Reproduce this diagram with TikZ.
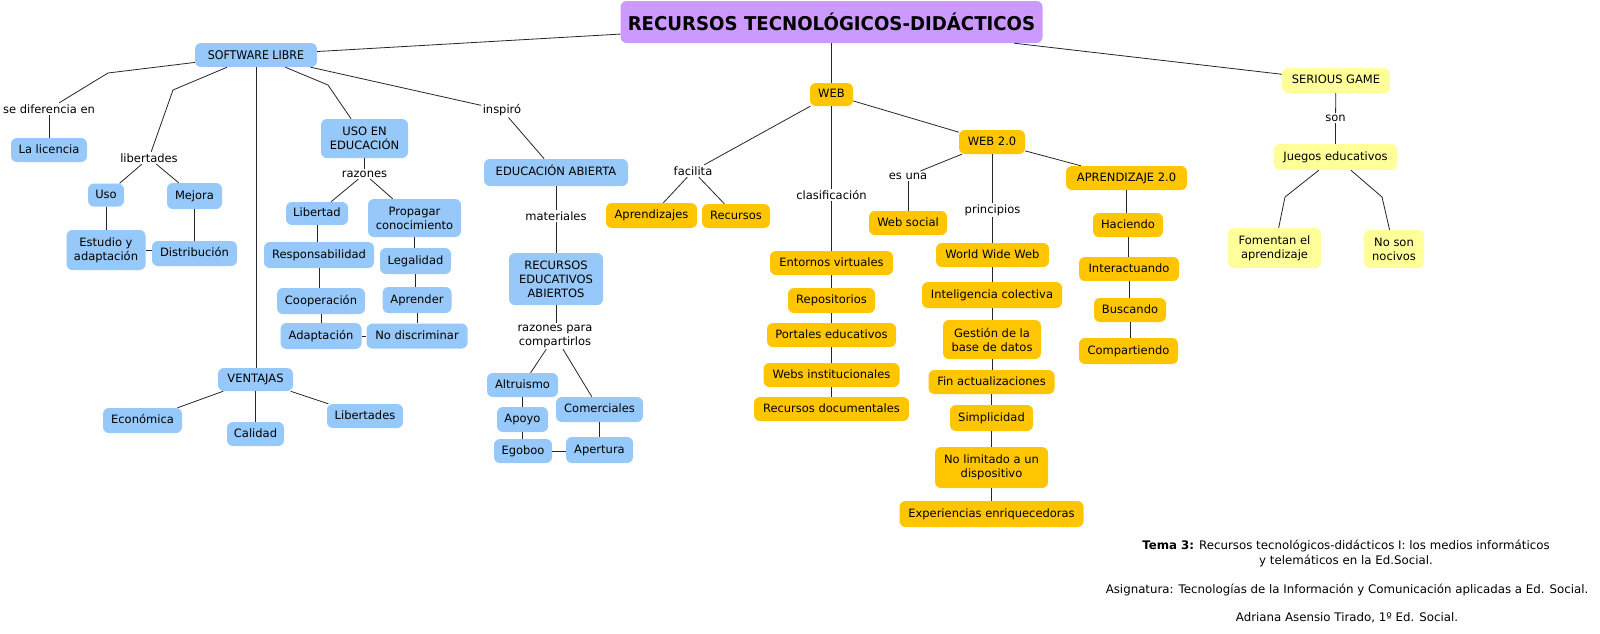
\documentclass[tikz,border=0pt]{standalone}
\usepackage{fontspec}
\usepackage{graphicx}
\setmainfont{DejaVu Sans}
\definecolor{cblue}{RGB}{150,200,250}
\definecolor{cgold}{RGB}{255,198,0}
\definecolor{cyel}{RGB}{255,255,153}
\definecolor{cpurp}{RGB}{204,153,255}
\newcommand\fs{\fontsize{11.5}{14}\selectfont}
\newcommand\fsfoot{\fontsize{11.8}{15}\selectfont}
\tikzset{
  boxbase/.style={rounded corners=6pt, inner xsep=3pt, inner ysep=2pt, text=black},
  one/.style={boxbase, font=\fs, text height=8.6pt, text depth=2.4pt},
  two/.style={boxbase, font=\fs, align=center},
  bl/.style={fill=cblue}, go/.style={fill=cgold}, ye/.style={fill=cyel},
  sz/.style 2 args={minimum width=#1pt, minimum height=#2pt},
  lab/.style={font=\fs, inner sep=1.5pt, align=center, text=black},
  foot/.style={font=\fsfoot, inner sep=1.5pt, align=center, text=black},
  conn/.style={draw=black!85, line width=0.8pt},
}
\begin{document}
\begin{tikzpicture}[x=1pt,y=-1pt]
\useasboundingbox (0,0) rectangle (1600,633);
\fill[white] (0,0) rectangle (1600,633);

% title
\node[boxbase, fill=cpurp, sz={422}{42}] (title) at (831.5,22)
  {\fontsize{19}{19}\selectfont\bfseries\scalebox{0.955}[1]{RECURSOS TECNOLÓGICOS-DIDÁCTICOS}};

% software libre branch
\node[boxbase, bl, sz={122}{24}, font=\fontsize{12}{12}\selectfont] (sw) at (256,55) {\scalebox{0.92}[1]{SOFTWARE LIBRE}};
\node[lab] (sediff) at (49,109) {se diferencia en};
\node[one,bl,sz={76}{24}] (lic) at (49,150) {La licencia};
\node[lab] (libs) at (149,158) {libertades};
\node[one,bl,sz={36}{23}] (uso) at (106,195) {Uso};
\node[one,bl,sz={55}{26}] (mejora) at (194.5,196) {Mejora};
\node[two,bl,sz={79}{40}] (estudio) at (106,250) {Estudio y\\adaptación};
\node[one,bl,sz={85}{25}] (distrib) at (194.5,253.5) {Distribución};
\node[two,bl,sz={87}{39}] (usoedu) at (364.5,138.5) {USO EN\\EDUCACIÓN};
\node[lab] (razones) at (364.5,174) {razones};
\node[one,bl,sz={62}{23}] (libertad) at (317,213.5) {Libertad};
\node[two,bl,sz={93}{38}] (propagar) at (414.5,218) {Propagar\\conocimiento};
\node[one,bl,sz={110}{26}] (resp) at (319,255) {Responsabilidad};
\node[one,bl,sz={71}{26}] (legal) at (415.5,261) {Legalidad};
\node[one,bl,sz={88}{26}] (coop) at (321,301) {Cooperación};
\node[one,bl,sz={69}{26}] (aprender) at (417,300) {Aprender};
\node[one,bl,sz={81}{26}] (adapt) at (321,336) {Adaptación};
\node[one,bl,sz={101}{25}] (nodisc) at (417,336) {No discriminar};
\node[one,bl,sz={75}{23}] (ventajas) at (255.5,379.5) {VENTAJAS};
\node[one,bl,sz={79}{25}] (economica) at (142.5,420.5) {Económica};
\node[one,bl,sz={57}{24}] (calidad) at (255.5,434) {Calidad};
\node[one,bl,sz={76}{24}] (libertades) at (365,416) {Libertades};
\node[lab] (inspiro) at (502,110) {inspiró};
\node[one,bl,sz={144}{27}] (edab) at (556,172.5) {EDUCACIÓN ABIERTA};
\node[lab] (materiales) at (556,216) {materiales};
\node[two,bl,sz={94}{52}] (rea) at (556,279) {RECURSOS\\EDUCATIVOS\\ABIERTOS};
\node[lab] (razpara) at (555,336) {razones para\\compartirlos};
\node[one,bl,sz={71}{24}] (altruismo) at (522.5,385) {Altruismo};
\node[one,bl,sz={87}{25}] (comerciales) at (599.5,409.5) {Comerciales};
\node[one,bl,sz={51}{25}] (apoyo) at (522.5,419.5) {Apoyo};
\node[one,bl,sz={58}{24}] (egoboo) at (523,451) {Egoboo};
\node[one,bl,sz={67}{26}] (apertura) at (599.5,450) {Apertura};

% web branch
\node[one,go,sz={43}{23}] (web) at (831.5,94.5) {WEB};
\node[lab] (facilita) at (693,171) {facilita};
\node[one,go,sz={91}{25}] (aprendizajes) at (651.5,215.5) {Aprendizajes};
\node[one,go,sz={68}{24}] (recursos) at (736,216) {Recursos};
\node[lab] (clasif) at (831.5,195) {clasificación};
\node[one,go,sz={123}{24}] (entornos) at (831.5,263) {Entornos virtuales};
\node[one,go,sz={87}{25}] (repos) at (831.5,300.5) {Repositorios};
\node[one,go,sz={129}{24}] (portales) at (831.5,335) {Portales educativos};
\node[one,go,sz={136}{24}] (webs) at (831.5,375) {Webs institucionales};
\node[one,go,sz={155}{24}] (recdoc) at (831.5,409) {Recursos documentales};
\node[one,go,sz={66}{24}] (web2) at (992,142) {WEB 2.0};
\node[lab] (esuna) at (908,176) {es una};
\node[one,go,sz={78}{24}] (websocial) at (908,223) {Web social};
\node[lab] (principios) at (992.5,210) {principios};
\node[one,go,sz={113}{24}] (www) at (992.5,255) {World Wide Web};
\node[one,go,sz={140}{26}] (intel) at (992,295) {Inteligencia colectiva};
\node[two,go,sz={98}{39}] (gestion) at (992,339.5) {Gestión de la\\base de datos};
\node[one,go,sz={126}{24}] (fin) at (991.5,382) {Fin actualizaciones};
\node[one,go,sz={83}{26}] (simpl) at (991.5,418) {Simplicidad};
\node[two,go,sz={113}{41}] (nolim) at (991.5,467.5) {No limitado a un\\dispositivo};
\node[one,go,sz={184}{26}] (exper) at (991.5,514) {Experiencias enriquecedoras};
\node[one,go,sz={121}{24}] (aprend2) at (1126.5,178) {APRENDIZAJE 2.0};
\node[one,go,sz={70}{24}] (haciendo) at (1128,225) {Haciendo};
\node[one,go,sz={100}{24}] (interact) at (1129,269) {Interactuando};
\node[one,go,sz={72}{24}] (buscando) at (1130,310) {Buscando};
\node[one,go,sz={99}{26}] (compart) at (1128.5,351) {Compartiendo};

% serious game branch
\node[one,ye,sz={108}{25}] (serious) at (1336,80.5) {SERIOUS GAME};
\node[lab] (son) at (1335.5,118) {son};
\node[one,ye,sz={123}{26}] (juegos) at (1335.5,157) {Juegos educativos};
\node[two,ye,sz={93}{40}] (fomentan) at (1274.5,248) {Fomentan el\\aprendizaje};
\node[two,ye,sz={60}{38}] (noson) at (1394,249) {No son\\nocivos};

% footer
\node[foot] (tema) at (1346,553.5) {\textbf{Tema 3:} Recursos tecnológicos-didácticos I: los medios informáticos\\y telemáticos en la Ed.Social.};
\node[foot] (asig) at (1347,590) {Asignatura: Tecnologías de la Información y Comunicación aplicadas a Ed. Social.};
\node[foot] (autora) at (1347,618) {Adriana Asensio Tirado, 1º Ed. Social.};

% bend points
\coordinate (b1) at (108,73);
\coordinate (b2) at (173,90);
\coordinate (b3) at (328,85);
\coordinate (b4) at (1285,197);
\coordinate (b5) at (1382,197);

% connectors
\draw[conn] (title) -- (sw);
\draw[conn] (title) -- (web);
\draw[conn] (title) -- (serious);

\draw[conn] (sw) -- (b1) -- (sediff);
\draw[conn] (sediff) -- (lic);
\draw[conn] (sw) -- (b2) -- (libs);
\draw[conn] (libs) -- (uso);
\draw[conn] (libs) -- (mejora);
\draw[conn] (uso) -- (estudio);
\draw[conn] (mejora) -- (mejora |- distrib.north);
\draw[conn] (estudio.east) -- (estudio.east -| distrib.west);
\draw[conn] (sw) -- (sw |- ventajas.north);
\draw[conn] (sw) -- (b3) -- (usoedu);
\draw[conn] (sw) -- (inspiro);
\draw[conn] (usoedu) -- (razones);
\draw[conn] (razones) -- (libertad);
\draw[conn] (razones) -- (propagar);
\draw[conn] (libertad) -- (libertad |- resp.north);
\draw[conn] (resp) -- (resp |- coop.north);
\draw[conn] (coop) -- (adapt);
\draw[conn] (propagar) -- (propagar |- legal.north);
\draw[conn] (legal) -- (legal |- aprender.north);
\draw[conn] (aprender) -- (aprender |- nodisc.north);
\draw[conn] (adapt.east) -- (adapt.east -| nodisc.west);
\draw[conn] (ventajas) -- (economica);
\draw[conn] (ventajas) -- (calidad);
\draw[conn] (ventajas) -- (libertades);
\draw[conn] (inspiro) -- (edab);
\draw[conn] (edab) -- (materiales);
\draw[conn] (materiales) -- (rea);
\draw[conn] (rea) -- (rea |- razpara.north);
\draw[conn] (razpara) -- (altruismo);
\draw[conn] (razpara) -- (comerciales);
\draw[conn] (altruismo) -- (apoyo);
\draw[conn] (apoyo) -- (apoyo |- egoboo.north);
\draw[conn] (comerciales) -- (apertura);
\draw[conn] (egoboo.east) -- (egoboo.east -| apertura.west);

\draw[conn] (web) -- (facilita);
\draw[conn] (facilita) -- (aprendizajes);
\draw[conn] (facilita) -- (recursos);
\draw[conn] (web) -- (clasif);
\draw[conn] (clasif) -- (entornos);
\draw[conn] (entornos) -- (repos);
\draw[conn] (repos) -- (portales);
\draw[conn] (portales) -- (webs);
\draw[conn] (webs) -- (recdoc);
\draw[conn] (web) -- (web2);
\draw[conn] (web2) -- (esuna);
\draw[conn] (esuna) -- (websocial);
\draw[conn] (web2) -- (web2 |- principios.north);
\draw[conn] (principios) -- (principios |- www.north);
\draw[conn] (www) -- (www |- intel.north);
\draw[conn] (intel) -- (gestion);
\draw[conn] (gestion) -- (gestion |- fin.north);
\draw[conn] (fin) -- (simpl);
\draw[conn] (simpl) -- (nolim);
\draw[conn] (nolim) -- (exper);
\draw[conn] (web2) -- (aprend2);
\draw[conn] (aprend2) -- (aprend2 |- haciendo.north);
\draw[conn] (haciendo) -- (haciendo |- interact.north);
\draw[conn] (interact) -- (interact |- buscando.north);
\draw[conn] (buscando) -- (buscando |- compart.north);

\draw[conn] (serious) -- (son);
\draw[conn] (son) -- (juegos);
\draw[conn] (juegos) -- (b4) -- (fomentan);
\draw[conn] (juegos) -- (b5) -- (noson);
\end{tikzpicture}
\end{document}
